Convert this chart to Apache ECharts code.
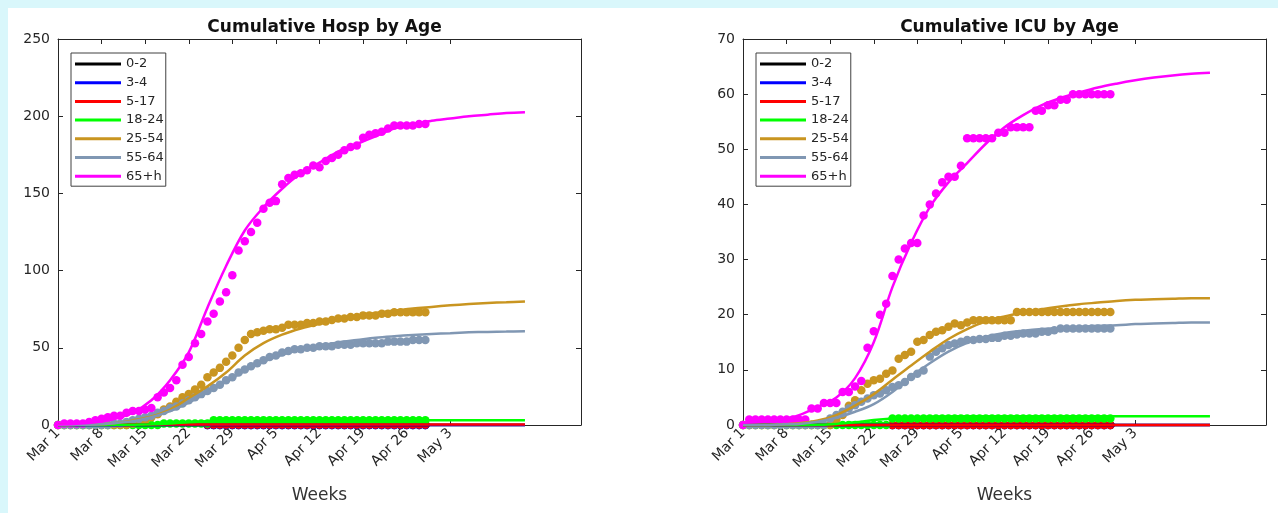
<!DOCTYPE html>
<html>
<head>
<meta charset="utf-8">
<script src="https://cdn.jsdelivr.net/npm/echarts@6/dist/echarts.min.js"></script>
<style>
  html, body { margin: 0; padding: 0; background: #d9f7fb; }
  #chart { position: absolute; left: 8px; top: 8px; width: 1270px; height: 505px; background: #ffffff; }
</style>
</head>
<body>
<div id="chart"></div>
<script>
// Age groups and their plot colours
const ageGroups = ['0-2', '3-4', '5-17', '18-24', '25-54', '55-64', '65+h'];
const groupColors = ['#000000', '#0000ff', '#ff0000', '#00ff00', '#c99520', '#8097b3', '#ff00ff'];

// Weekly tick labels (days since Mar 1)
const tickDays = [0, 7, 14, 21, 28, 35, 42, 49, 56, 63];
const tickLabels = ['Mar 1', 'Mar 8', 'Mar 15', 'Mar 22', 'Mar 29', 'Apr 5', 'Apr 12', 'Apr 19', 'Apr 26', 'May 3'];

// Days at which the fitted curves are sampled
const fitDays = [0, 3, 6, 9, 12, 15, 18, 21, 24, 27, 30, 33, 36, 39, 42, 45, 48, 51, 54, 57, 60, 63, 66, 69, 72, 75];

// ---- Cumulative hospitalisations: daily observations, day 0 = Mar 1 ----
const hospObs02 = [null, null, null, null, null, null, null, null, null, null, null, null, null, null, null, null, null, null, null, null, null, null, null, null,
  0, 0, 0, 0, 0, 0, 0, 0, 0, 0, 0, 0, 0, 0, 0, 0, 0, 0, 0, 0, 0, 0, 0, 0, 0, 0, 0, 0, 0, 0, 0, 0, 0, 0, 0, 0];
const hospObs34 = [null, null, null, null, null, null, null, null, null, null, null, null, null, null, null, null, null, null, null, null, null, null, null, null,
  0, 0, 0, 0, 0, 0, 0, 0, 0, 0, 0, 0, 0, 0, 0, 0, 0, 0, 0, 0, 0, 0, 0, 0, 0, 0, 0, 0, 0, 0, 0, 0, 0, 0, 0, 0];
const hospObs517 = [null, null, null, null, null, null, null, null, null, null, null, null, null, null, null, null, null, null, null, null, null, null, null, null,
  0.4, 0.4, 0.4, 0.4, 0.4, 0.4, 0.4, 0.4, 0.4, 0.4, 0.4, 0.4, 0.4, 0.4, 0.4, 0.4, 0.4, 0.4, 0.4, 0.4, 0.4, 0.4, 0.4, 0.4, 0.4, 0.4, 0.4, 0.4, 0.4, 0.4, 0.4, 0.4, 0.4, 0.4, 0.4, 0.4];
const hospObs1824 = [0, 0, 0, 0, 0, 0, 0, 0, 0, 0, 0, 0, 0, 0, 0, 0, 0,
  1, 1, 1, 1, 1, 1, 1, 1,
  3, 3, 3, 3, 3, 3, 3, 3, 3, 3, 3, 3, 3, 3, 3, 3, 3, 3, 3, 3, 3, 3, 3, 3, 3, 3, 3, 3, 3, 3, 3, 3, 3, 3, 3];
const hospObs2554 = [0, 0, 0, 0, 0, 0, 0, 0, 0, 0,
  0, 0, 1, 2, 3, 5, 7, 10, 12, 15,
  18, 20, 23, 26, 31, 34, 37, 41, 45, 50,
  55, 59, 60, 61, 62, 62, 63, 65, 65, 65,
  66, 66, 67, 67, 68, 69, 69, 70, 70, 71,
  71, 71, 72, 72, 73, 73, 73, 73, 73, 73];
const hospObs5564 = [0, 0, 0, 0, 0, 0, 0, 0, 0, 1,
  1, 2, 3, 4, 5, 6, 8, 9, 11, 12,
  14, 16, 18, 20, 22, 24, 26, 29, 31, 34,
  36, 38, 40, 42, 44, 45, 47, 48, 49, 49,
  50, 50, 51, 51, 51, 52, 52, 52, 53, 53,
  53, 53, 53, 54, 54, 54, 54, 55, 55, 55];
const hospObs65 = [0, 1, 1, 1, 1, 2, 3, 4, 5, 6,
  6, 8, 9, 9, 10, 11, 18, 21, 24, 29,
  39, 44, 53, 59, 67, 72, 80, 86, 97, 113,
  119, 125, 131, 140, 144, 145, 156, 160, 162, 163,
  165, 168, 167, 171, 173, 175, 178, 180, 181, 186,
  188, 189, 190, 192, 194, 194, 194, 194, 195, 195];

// ---- Cumulative hospitalisations: fitted curves at fitDays ----
const hospFit02 = [0, 0, 0, 0, 0, 0, 0, 0, 0, 0, 0, 0, 0, 0, 0, 0, 0, 0, 0, 0, 0, 0, 0, 0, 0, 0];
const hospFit34 = [0, 0, 0, 0, 0, 0, 0, 0, 0, 0, 0, 0, 0, 0, 0, 0, 0, 0, 0, 0, 0, 0, 0, 0, 0, 0];
const hospFit517 = [0.3, 0.3, 0.3, 0.3, 0.3, 0.3, 0.3, 0.3, 0.3, 0.3, 0.3, 0.3, 0.3, 0.3, 0.3, 0.3, 0.3, 0.3, 0.3, 0.3, 0.3, 0.3, 0.3, 0.3, 0.3, 0.3];
const hospFit1824 = [0, 0, 0, 0.1, 0.2, 0.5, 1, 1.8, 2.4, 2.8, 2.95, 3, 3, 3, 3, 3, 3, 3, 3, 3, 3, 3, 3, 3, 3, 3];
const hospFit2554 = [0, 0.1, 0.4, 1.2, 3, 5.5, 10, 17.5, 25, 34, 45, 53, 58.5, 62.5, 65.5, 68, 70.5, 72.5, 74, 75.5, 76.5, 77.5, 78.3, 79, 79.5, 80];
const hospFit5564 = [0, 0.1, 0.4, 1.2, 2.5, 5, 9, 14.5, 21, 28, 35, 41, 45.5, 49, 51.5, 53.5, 55, 56.5, 57.5, 58.3, 59, 59.5, 60, 60.3, 60.5, 60.7];
const hospFit65 = [0.3, 0.8, 1.7, 3.8, 8, 16, 29, 47, 76, 103, 126, 141, 153, 163, 170, 177, 182, 187, 192, 195, 197, 198.5, 200, 201, 202, 202.5];

// ---- Cumulative ICU admissions: daily observations ----
const icuObs02 = [null, null, null, null, null, null, null, null, null, null, null, null, null, null, null, null, null, null, null, null, null, null, null, null,
  0, 0, 0, 0, 0, 0, 0, 0, 0, 0, 0, 0, 0, 0, 0, 0, 0, 0, 0, 0, 0, 0, 0, 0, 0, 0, 0, 0, 0, 0, 0, 0, 0, 0, 0, 0];
const icuObs34 = [null, null, null, null, null, null, null, null, null, null, null, null, null, null, null, null, null, null, null, null, null, null, null, null,
  0, 0, 0, 0, 0, 0, 0, 0, 0, 0, 0, 0, 0, 0, 0, 0, 0, 0, 0, 0, 0, 0, 0, 0, 0, 0, 0, 0, 0, 0, 0, 0, 0, 0, 0, 0];
const icuObs517 = [null, null, null, null, null, null, null, null, null, null, null, null, null, null, null, null, null, null, null, null, null, null, null, null,
  0, 0, 0, 0, 0, 0, 0, 0, 0, 0, 0, 0, 0, 0, 0, 0, 0, 0, 0, 0, 0, 0, 0, 0, 0, 0, 0, 0, 0, 0, 0, 0, 0, 0, 0, 0];
const icuObs1824 = [0, 0, 0, 0, 0, 0, 0, 0, 0, 0, 0, 0, 0, 0, 0, 0, 0, 0, 0, 0, 0, 0, 0, 0,
  1.2, 1.2, 1.2, 1.2, 1.2, 1.2, 1.2, 1.2, 1.2, 1.2, 1.2, 1.2, 1.2, 1.2, 1.2, 1.2, 1.2, 1.2, 1.2, 1.2, 1.2, 1.2, 1.2, 1.2, 1.2, 1.2, 1.2, 1.2, 1.2, 1.2, 1.2, 1.2, 1.2, 1.2, 1.2, 1.2];
const icuObs2554 = [0, 0, 0, 0, 0, 0, 0, 0, 0, 0,
  0, 0, 0, 0, 0, 1, 1.8, 3.5, 4.5, 6.3,
  7.5, 8.1, 8.4, 9.3, 9.9, 12, 12.7, 13.3, 15.1, 15.4,
  16.3, 16.9, 17.2, 17.8, 18.4, 18.1, 18.6, 19, 19, 19,
  19, 19, 19, 19, 20.5, 20.5, 20.5, 20.5, 20.5, 20.5,
  20.5, 20.5, 20.5, 20.5, 20.5, 20.5, 20.5, 20.5, 20.5, 20.5];
const icuObs5564 = [0, 0, 0, 0, 0, 0, 0, 0, 0, 0,
  0, 0, 0, 0, 1.2, 1.8, 2.4, 3, 3.6, 4.2,
  4.8, 5.4, 5.7, 6.3, 6.9, 7.2, 7.8, 8.7, 9.3, 9.9,
  12.4, 13.3, 13.9, 14.5, 14.8, 15.1, 15.4, 15.4, 15.6, 15.6,
  15.8, 15.8, 16.2, 16.2, 16.4, 16.6, 16.6, 16.6, 16.9, 16.9,
  17.2, 17.5, 17.5, 17.5, 17.5, 17.5, 17.5, 17.5, 17.5, 17.5];
const icuObs65 = [0, 1, 1, 1, 1, 1, 1, 1, 1, 1,
  1, 3, 3, 4, 4, 4, 6, 6, 7, 8,
  14, 17, 20, 22, 27, 30, 32, 33, 33, 38,
  40, 42, 44, 45, 45, 47, 52, 52, 52, 52,
  52, 53, 53, 54, 54, 54, 54, 57, 57, 58,
  58, 59, 59, 60, 60, 60, 60, 60, 60, 60];

// ---- Cumulative ICU admissions: fitted curves at fitDays ----
const icuFit02 = [0, 0, 0, 0, 0, 0, 0, 0, 0, 0, 0, 0, 0, 0, 0, 0, 0, 0, 0, 0, 0, 0, 0, 0, 0, 0];
const icuFit34 = [0, 0, 0, 0, 0, 0, 0, 0, 0, 0, 0, 0, 0, 0, 0, 0, 0, 0, 0, 0, 0, 0, 0, 0, 0, 0];
const icuFit517 = [0, 0, 0, 0, 0, 0, 0, 0, 0, 0, 0, 0, 0, 0, 0, 0, 0, 0, 0, 0, 0, 0, 0, 0, 0, 0];
const icuFit1824 = [0, 0, 0, 0, 0.05, 0.2, 0.5, 0.9, 1.2, 1.4, 1.5, 1.55, 1.6, 1.6, 1.6, 1.6, 1.6, 1.6, 1.6, 1.6, 1.6, 1.6, 1.6, 1.6, 1.6, 1.6];
const icuFit2554 = [0, 0, 0.1, 0.3, 0.8, 1.8, 3.5, 5.6, 8.2, 10.8, 13.3, 15.6, 17.4, 18.8, 19.7, 20.4, 21, 21.5, 21.9, 22.2, 22.5, 22.7, 22.8, 22.9, 23, 23];
const icuFit5564 = [0, 0, 0.1, 0.2, 0.6, 1.3, 2.4, 3.8, 6, 8.8, 11.2, 13.3, 14.9, 16, 16.7, 17.1, 17.4, 17.6, 17.8, 18, 18.1, 18.3, 18.4, 18.5, 18.6, 18.6];
const icuFit65 = [0.4, 0.6, 1, 1.8, 3.3, 5, 8.5, 15, 25, 33, 39.5, 44, 47.5, 51, 54, 56.2, 58, 59.3, 60.3, 61.2, 61.9, 62.5, 63, 63.4, 63.7, 63.9];

const hospObs = [hospObs02, hospObs34, hospObs517, hospObs1824, hospObs2554, hospObs5564, hospObs65];
const hospFit = [hospFit02, hospFit34, hospFit517, hospFit1824, hospFit2554, hospFit5564, hospFit65];
const icuObs = [icuObs02, icuObs34, icuObs517, icuObs1824, icuObs2554, icuObs5564, icuObs65];
const icuFit = [icuFit02, icuFit34, icuFit517, icuFit1824, icuFit2554, icuFit5564, icuFit65];

const FONT = 'DejaVu Sans';
const AXIS_COLOR = '#262626';
const DAY_MAX = 84;

const grids = [
  { left: 50, top: 31, width: 523, height: 386 },
  { left: 735, top: 31, width: 523, height: 386 }
];

function bottomAxis(gridIndex) {
  return {
    type: 'value', gridIndex, position: 'bottom', min: 0, max: DAY_MAX,
    axisLine: { show: true, onZero: false, lineStyle: { color: AXIS_COLOR, width: 1 } },
    axisTick: { show: true, inside: true, length: 5, customValues: tickDays, lineStyle: { color: AXIS_COLOR } },
    axisLabel: {
      show: true, rotate: 45, margin: 6, customValues: tickDays,
      formatter: v => tickLabels[tickDays.indexOf(Math.round(v))] || '',
      fontFamily: FONT, fontSize: 14, color: AXIS_COLOR
    },
    splitLine: { show: false },
    name: 'Weeks', nameLocation: 'middle', nameGap: 62,
    nameTextStyle: { fontFamily: FONT, fontSize: 17, color: '#333333' }
  };
}
function topAxis(gridIndex) {
  return {
    type: 'value', gridIndex, position: 'top', min: 0, max: DAY_MAX,
    axisLine: { show: true, onZero: false, lineStyle: { color: AXIS_COLOR, width: 1 } },
    axisTick: { show: true, inside: true, length: 5, customValues: tickDays, lineStyle: { color: AXIS_COLOR } },
    axisLabel: { show: false },
    splitLine: { show: false }
  };
}
function leftAxis(gridIndex, max, interval) {
  return {
    type: 'value', gridIndex, position: 'left', min: 0, max, interval,
    axisLine: { show: true, onZero: false, lineStyle: { color: AXIS_COLOR, width: 1 } },
    axisTick: { show: true, inside: true, length: 5, lineStyle: { color: AXIS_COLOR } },
    axisLabel: { fontFamily: FONT, fontSize: 14, color: AXIS_COLOR, margin: 8 },
    splitLine: { show: false }
  };
}
function rightAxis(gridIndex, max, interval) {
  return {
    type: 'value', gridIndex, position: 'right', min: 0, max, interval,
    axisLine: { show: true, onZero: false, lineStyle: { color: AXIS_COLOR, width: 1 } },
    axisTick: { show: true, inside: true, length: 5, lineStyle: { color: AXIS_COLOR } },
    axisLabel: { show: false },
    splitLine: { show: false }
  };
}

function panelSeries(panel, obsList, fitList) {
  const out = [];
  ageGroups.forEach((name, i) => {
    const color = groupColors[i];
    const pts = [];
    obsList[i].forEach((v, d) => { if (v !== null) pts.push([d, v]); });
    out.push({
      type: 'scatter', name: name + ' observed',
      xAxisIndex: panel * 2, yAxisIndex: panel * 2,
      data: pts, symbol: 'circle', symbolSize: 8.5, clip: false,
      itemStyle: { color, opacity: 1 }, silent: true
    });
    out.push({
      type: 'line', name,
      xAxisIndex: panel * 2, yAxisIndex: panel * 2,
      data: fitDays.map((d, k) => [d, fitList[i][k]]),
      smooth: 0.35, showSymbol: false, clip: false,
      color, lineStyle: { color, width: 2.5 }, itemStyle: { color }, silent: true
    });
  });
  return out;
}

function legendFor(left) {
  return {
    data: ageGroups, left, top: 45, orient: 'vertical',
    icon: 'rect', itemWidth: 46, itemHeight: 3, itemGap: 4.7, itemTextGap: 5,
    padding: [4, 2, 3, 4], backgroundColor: '#ffffff',
    borderColor: '#404040', borderWidth: 1, borderRadius: 0,
    selectedMode: false,
    textStyle: { fontFamily: FONT, fontSize: 13, color: AXIS_COLOR, lineHeight: 14 }
  };
}

const chart = echarts.init(document.getElementById('chart'), null, { renderer: 'canvas' });
chart.setOption({
  animation: false,
  backgroundColor: '#ffffff',
  title: [
    { text: 'Cumulative Hosp by Age', left: 311.5, top: 6, textAlign: 'center',
      textStyle: { fontFamily: FONT, fontSize: 17, fontWeight: 'bold', color: '#111111' } },
    { text: 'Cumulative ICU by Age', left: 996.5, top: 6, textAlign: 'center',
      textStyle: { fontFamily: FONT, fontSize: 17, fontWeight: 'bold', color: '#111111' } }
  ],
  grid: grids,
  legend: [legendFor(63), legendFor(748)],
  xAxis: [bottomAxis(0), topAxis(0), bottomAxis(1), topAxis(1)],
  yAxis: [leftAxis(0, 250, 50), rightAxis(0, 250, 50), leftAxis(1, 70, 10), rightAxis(1, 70, 10)],
  series: [...panelSeries(0, hospObs, hospFit), ...panelSeries(1, icuObs, icuFit)]
});
</script>
</body>
</html>
